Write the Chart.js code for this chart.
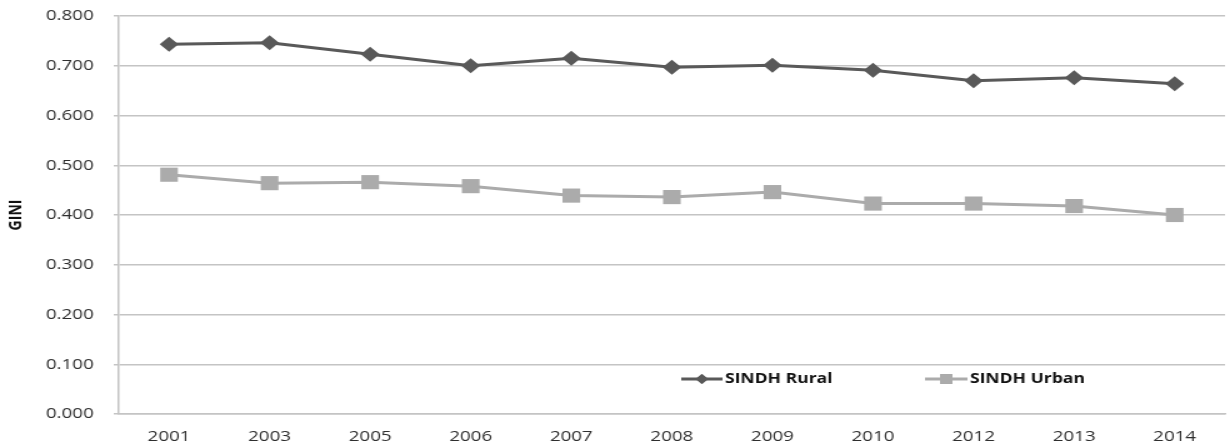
<!DOCTYPE html>
<html>
<head>
<meta charset="utf-8">
<script src="https://cdn.jsdelivr.net/npm/chart.js@4.4.1/dist/chart.umd.min.js"></script>
<style>
  html, body { margin: 0; padding: 0; background: #ffffff; overflow: hidden; width: 1230px; height: 448px; }
  #wrap { position: absolute; left: 0; top: 0; width: 990px; height: 448px; transform: scaleX(1.25); transform-origin: 0 0; }
  canvas { display: block; }
</style>
</head>
<body>
<div id="wrap"><canvas id="chart" width="990" height="448"></canvas></div>
<script>
// Survey years on the category axis
const years = ['2001', '2003', '2005', '2006', '2007', '2008', '2009', '2010', '2012', '2013', '2014'];

// Gini coefficient by survey year
const sindhRural = [0.743, 0.746, 0.723, 0.700, 0.715, 0.697, 0.701, 0.691, 0.670, 0.676, 0.664];
const sindhUrban = [0.481, 0.464, 0.466, 0.458, 0.439, 0.436, 0.446, 0.423, 0.423, 0.418, 0.400];

// Value axis ticks
const giniTicks = [0.0, 0.1, 0.2, 0.3, 0.4, 0.5, 0.6, 0.7, 0.8];

const seriesNames = ['SINDH Rural', 'SINDH Urban'];

const RURAL_COLOR = '#595959';
const URBAN_COLOR = '#ABABAB';
const GRID_COLOR = '#C4C4C4';
const TEXT_COLOR = '#2E2E2E';

// Legend drawn inside the plot, near its lower right
const insideLegend = {
  id: 'insideLegend',
  afterDraw(chart) {
    const ctx = chart.ctx;
    const items = [
      { ds: 0, x0: 545, x1: 578, tx: 580, r: 5, style: 'rectRot' },
      { ds: 1, x0: 740, x1: 774, tx: 776, r: 7, style: 'rect' }
    ];
    const y = 379;
    ctx.save();
    items.forEach(it => {
      const ds = chart.data.datasets[it.ds];
      ctx.strokeStyle = ds.borderColor;
      ctx.lineWidth = 3;
      ctx.beginPath();
      ctx.moveTo(it.x0, y);
      ctx.lineTo(it.x1, y);
      ctx.stroke();
      ctx.fillStyle = ds.pointBackgroundColor;
      Chart.helpers.drawPoint(ctx, { pointStyle: it.style, radius: it.r, borderWidth: 0, rotation: 0 }, (it.x0 + it.x1) / 2, y);
      ctx.fill();
      ctx.fillStyle = '#111111';
      ctx.font = 'bold 14px "Open Sans"';
      ctx.textBaseline = 'middle';
      ctx.textAlign = 'left';
      ctx.fillText(ds.label, it.tx, y);
    });
    ctx.restore();
  }
};

new Chart(document.getElementById('chart'), {
  type: 'line',
  data: {
    labels: years,
    datasets: [
      {
        label: seriesNames[0],
        data: sindhRural,
        borderColor: RURAL_COLOR,
        backgroundColor: RURAL_COLOR,
        pointBackgroundColor: RURAL_COLOR,
        pointBorderWidth: 0,
        borderWidth: 3,
        pointStyle: 'rectRot',
        pointRadius: 7.5,
        tension: 0
      },
      {
        label: seriesNames[1],
        data: sindhUrban,
        borderColor: URBAN_COLOR,
        backgroundColor: URBAN_COLOR,
        pointBackgroundColor: URBAN_COLOR,
        pointBorderWidth: 0,
        borderWidth: 3,
        pointStyle: 'rect',
        pointRadius: 10,
        tension: 0
      }
    ]
  },
  options: {
    responsive: false,
    animation: false,
    devicePixelRatio: 1,
    layout: { padding: { top: 16, right: 3, bottom: 0, left: 0 } },
    plugins: {
      legend: { display: false },
      title: { display: false },
      tooltip: { enabled: false }
    },
    scales: {
      x: {
        type: 'category',
        offset: true,
        grid: { display: false },
        border: { display: true, color: GRID_COLOR, width: 1.5 },
        ticks: {
          color: TEXT_COLOR,
          font: { family: 'Open Sans', size: 15 },
          padding: 6,
          maxRotation: 0,
          autoSkip: false
        },
        afterFit(scale) {
          scale.height = 34;
          scale.paddingLeft = 0;
          scale.paddingRight = 0;
        }
      },
      y: {
        min: giniTicks[0],
        max: giniTicks[giniTicks.length - 1],
        afterBuildTicks(scale) { scale.ticks = giniTicks.map(v => ({ value: v })); },
        grid: { color: GRID_COLOR, lineWidth: 1.5, tickLength: 4, drawTicks: true },
        border: { display: true, color: GRID_COLOR, width: 1.5 },
        ticks: {
          color: TEXT_COLOR,
          font: { family: 'Open Sans', size: 15 },
          padding: 16,
          callback: v => Number(v).toFixed(3)
        },
        title: {
          display: true,
          text: 'GINI',
          color: '#111111',
          font: { family: 'Open Sans', size: 14, weight: 'bold' },
          padding: { top: 5, bottom: 0 }
        },
        afterFit(scale) {
          scale.width = 95;
          scale.paddingTop = 0;
          scale.paddingBottom = 0;
        }
      }
    }
  },
  plugins: [insideLegend]
});
</script>
</body>
</html>
